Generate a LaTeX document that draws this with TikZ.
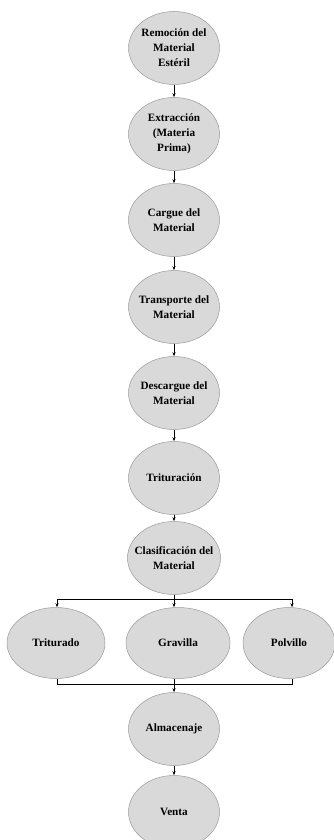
\documentclass[tikz,border=0pt]{standalone}
\usepackage{fontspec}
\setmainfont{Liberation Serif}
\usetikzlibrary{shapes.geometric,arrows.meta}
\begin{document}
\begin{tikzpicture}[x=1pt,y=-1pt,
  proc/.style={ellipse,draw=black!40,line width=0.5pt,fill=black!15,minimum width=91pt,minimum height=73pt,inner xsep=-14pt,inner ysep=-6pt,align=center,font=\bfseries\fontsize{11.2}{15}\selectfont},
  wide/.style={proc,minimum width=98pt,minimum height=71pt},
  arr/.style={-{Stealth[length=4pt,width=3pt]},line width=0.6pt},
  ln/.style={line width=0.6pt}]
\useasboundingbox (0,0) rectangle (333,840);
\node[proc] (n1) at (174,48) {Remoción del\\Material\\Estéril};
\node[proc] (n2) at (174,134) {Extracción\\(Materia\\Prima)};
\node[proc] (n3) at (174,220) {Cargue del\\Material};
\node[proc] (n4) at (174,307) {Transporte del\\Material};
\node[proc] (n5) at (174,393) {Descargue del\\Material};
\node[proc] (n6) at (174,478) {Trituración};
\node[proc,minimum width=93pt] (n7) at (174,558) {Clasificación del\\Material};
\node[wide] (a) at (56,643) {Triturado};
\node[wide,minimum width=104pt] (b) at (178,643) {Gravilla};
\node[wide,minimum width=92pt] (c) at (289,643) {Polvillo};
\node[proc] (n8) at (174,729) {Almacenaje};
\node[proc] (n9) at (174,812) {Venta};
\draw[arr] (n1) -- (n2);
\draw[arr] (n2) -- (n3);
\draw[arr] (n3) -- (n4);
\draw[arr] (n4) -- (n5);
\draw[arr] (n5) -- (n6);
\draw[arr] (n6) -- (n7);
\coordinate (s) at (174,599);
\coordinate (sl) at (57,599);
\coordinate (sr) at (292,599);
\coordinate (j) at (174,684);
\coordinate (jl) at (57,684);
\coordinate (jr) at (292,684);
\draw[ln] (n7.south) -- (s);
\draw[ln] (sl) -- (sr);
\draw[arr] (sl) -- (sl |- a.north);
\draw[arr] (s) -- (s |- b.north);
\draw[arr] (sr) -- (sr |- c.north);
\draw[ln] (jl |- a.south) -- (jl) -- (jr) -- (jr |- c.south);
\draw[ln] (j |- b.south) -- (j);
\draw[arr] (j) -- (n8.north);
\draw[arr] (n8) -- (n9);
\end{tikzpicture}
\end{document}
